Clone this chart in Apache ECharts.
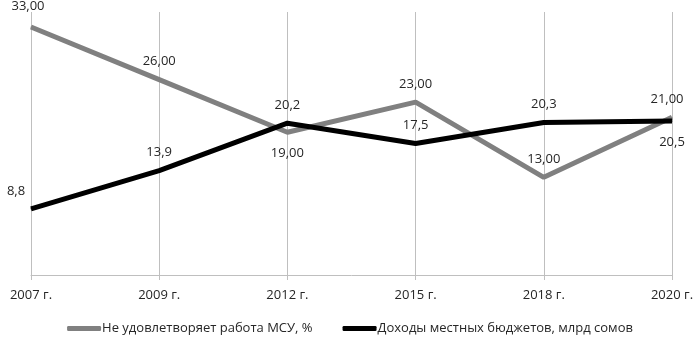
<!DOCTYPE html>
<html><head><meta charset="utf-8">
<script src="https://cdn.jsdelivr.net/npm/echarts@6/dist/echarts.min.js"></script>
<style>html,body{margin:0;padding:0;background:#fff}#c{width:700px;height:350px}</style>
</head><body><div id="c"></div>
<script>
const categories = ['2007 г.', '2009 г.', '2012 г.', '2015 г.', '2018 г.', '2020 г.'];
const msuValues = [33, 26, 19, 23, 13, 21];
const budgetValues = [8.8, 13.9, 20.2, 17.5, 20.3, 20.5];
const msuName = 'Не удовлетворяет работа МСУ, %';
const budgetName = 'Доходы местных бюджетов, млрд сомов';

const msuLabelPos = [[-3,-21],'top','bottom','top','top',[-5,-18]];
const budgetLabelPos = [[-15,-18],'top','top','top','top','bottom'];

const font = '"Open Sans", sans-serif';
function mk(vals, pos) {
  return vals.map((v, i) => {
    const p = pos[i];
    const lab = Array.isArray(p) ? {position: 'inside', offset: p}
      : (p === 'bottom' ? {position: p, distance: 14} : {position: p});
    return {value: v, label: lab};
  });
}
const chart = echarts.init(document.getElementById('c'), null, {renderer: 'canvas'});
chart.setOption({
  animation: false,
  grid: {left: 31, right: 28, top: 12, bottom: 75},
  legend: {
    bottom: 10, left: 'center', itemGap: 30, itemWidth: 34, itemHeight: 5,
    icon: 'roundRect',
    textStyle: {fontFamily: font, fontSize: 13, color: '#262626', padding: [0, 0, 0, -4]},
    data: [{name: msuName}, {name: budgetName}]
  },
  xAxis: {
    type: 'category', data: categories, boundaryGap: false,
    axisLine: {lineStyle: {color: '#bfbfbf', width: 1}},
    axisTick: {show: true, length: 5, lineStyle: {color: '#bfbfbf'}},
    axisLabel: {fontFamily: font, fontSize: 13, color: '#262626', margin: 14, showMaxLabel: true, showMinLabel: true},
    splitLine: {show: true, lineStyle: {color: '#bfbfbf', width: 1}}
  },
  yAxis: {type: 'value', min: 0, max: 35, interval: 5, show: false, splitLine: {show: false}},
  series: [
    {
      name: msuName, type: 'line', data: mk(msuValues, msuLabelPos),
      symbol: 'circle', symbolSize: 1, showSymbol: true,
      lineStyle: {color: '#808080', width: 5}, itemStyle: {color: '#808080'},
      label: {show: true, distance: 11, fontFamily: font, fontSize: 13, color: '#262626',
        formatter: p => p.value.toFixed(2).replace('.', ',')}
    },
    {
      name: budgetName, type: 'line', data: mk(budgetValues, budgetLabelPos),
      symbol: 'circle', symbolSize: 1, showSymbol: true,
      lineStyle: {color: '#000000', width: 5}, itemStyle: {color: '#000000'},
      label: {show: true, distance: 11, fontFamily: font, fontSize: 13, color: '#262626',
        formatter: p => p.value.toFixed(1).replace('.', ',')}
    }
  ]
});
</script></body></html>
